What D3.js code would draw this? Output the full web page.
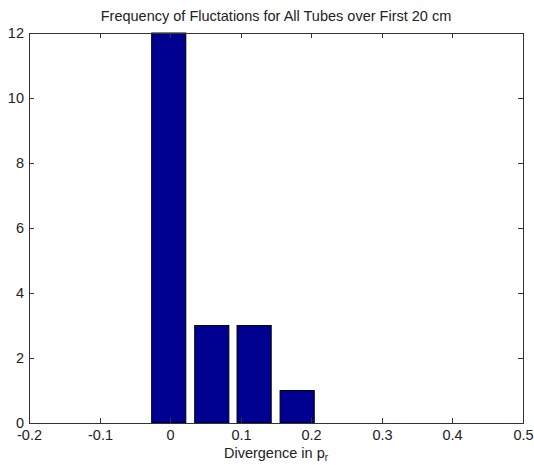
<!DOCTYPE html>
<html>
<head>
<meta charset="utf-8">
<script src="https://d3js.org/d3.v7.min.js"></script>
<style>
  body { margin: 0; background: #fff; }
  text { font-family: "Liberation Sans", Arial, sans-serif; }
</style>
</head>
<body>
<script>
// histogram bins (centers) and counts
var binCenters = [-0.002, 0.059, 0.119, 0.180];
var counts = [12, 3, 3, 1];
var xTicks = [-0.2, -0.1, 0, 0.1, 0.2, 0.3, 0.4, 0.5];
var yTicks = [0, 2, 4, 6, 8, 10, 12];

var W = 534, H = 465;
var mLeft = 29, mRight = 523, mTop = 33, mBottom = 423;
var fs = 14.5;

var svg = d3.select('body').append('svg')
  .attr('width', W).attr('height', H);

var x = d3.scaleLinear().domain([-0.2, 0.5]).range([mLeft, mRight]);
var y = d3.scaleLinear().domain([0, 12]).range([mBottom, mTop]);

var binWidth = 0.0605 * 0.8;

// bars
svg.selectAll('rect.bar')
  .data(binCenters)
  .enter().append('rect')
  .attr('class', 'bar')
  .attr('x', function (d) { return x(d - binWidth / 2); })
  .attr('width', function () { return x(binWidth) - x(0); })
  .attr('y', function (d, i) { return y(counts[i]); })
  .attr('height', function (d, i) { return y(0) - y(counts[i]); })
  .attr('fill', '#000090')
  .attr('stroke', '#000')
  .attr('stroke-width', 1);

// axes box
svg.append('rect')
  .attr('x', mLeft + 0.5).attr('y', mTop + 0.5)
  .attr('width', mRight - mLeft).attr('height', mBottom - mTop)
  .attr('fill', 'none').attr('stroke', '#333');

var tk = 5;
// x ticks (bottom & top, inward)
xTicks.forEach(function (t) {
  var px = Math.round(x(t)) + 0.5;
  svg.append('line').attr('x1', px).attr('x2', px)
    .attr('y1', mBottom).attr('y2', mBottom - tk).attr('stroke', '#333');
  svg.append('line').attr('x1', px).attr('x2', px)
    .attr('y1', mTop).attr('y2', mTop + tk).attr('stroke', '#333');
  svg.append('text').attr('x', px).attr('y', mBottom + 17)
    .attr('text-anchor', 'middle').attr('font-size', fs).attr('fill', '#222')
    .text(t === 0 ? '0' : d3.format('.1f')(t).replace('\u2212', '-'));
});

// y ticks (left & right, inward)
yTicks.forEach(function (t) {
  var py = Math.round(y(t)) + 0.5;
  svg.append('line').attr('x1', mLeft).attr('x2', mLeft + tk)
    .attr('y1', py).attr('y2', py).attr('stroke', '#333');
  svg.append('line').attr('x1', mRight).attr('x2', mRight - tk)
    .attr('y1', py).attr('y2', py).attr('stroke', '#333');
  svg.append('text').attr('x', mLeft - 5).attr('y', py + 4)
    .attr('text-anchor', 'end').attr('font-size', fs).attr('fill', '#222')
    .text(t);
});

// title
svg.append('text').attr('x', (mLeft + mRight) / 2).attr('y', 21)
  .attr('text-anchor', 'middle').attr('font-size', fs).attr('fill', '#222')
  .text('Frequency of Fluctations for All Tubes over First 20 cm');

// x label with subscript
var xl = svg.append('text').attr('x', (mLeft + mRight) / 2).attr('y', 458)
  .attr('text-anchor', 'middle').attr('font-size', fs).attr('fill', '#222');
xl.append('tspan').text('Divergence in p');
xl.append('tspan').attr('font-size', 10).attr('dy', 3).text('r');
</script>
</body>
</html>
